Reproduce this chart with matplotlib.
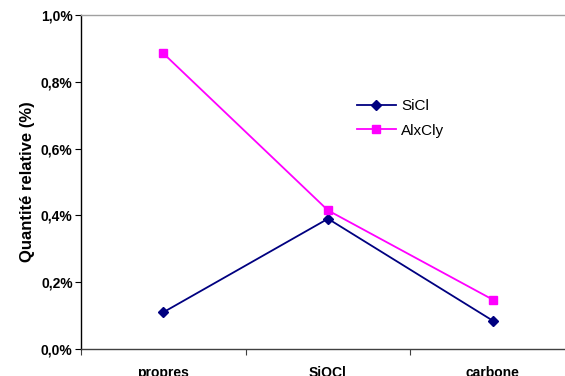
import matplotlib
matplotlib.use("Agg")
import matplotlib.pyplot as plt
from matplotlib.ticker import FixedLocator, FuncFormatter

categories = ["propres", "SiOCl", "carbone"]
sicl = [0.11, 0.39, 0.085]
alxcly = [0.885, 0.415, 0.148]
yticks = [0.0, 0.2, 0.4, 0.6, 0.8, 1.0]

plt.rcParams['font.family'] = ['Liberation Sans', 'DejaVu Sans']

fig = plt.figure(figsize=(5.65, 3.76), dpi=100)
ax = fig.add_axes([81 / 565, 1 - 349 / 376, 494 / 565, 334 / 376])

x = list(range(len(categories)))
ax.plot(x, sicl, color="#000080", marker="D", markersize=5.5, lw=1.3, label="SiCl")
ax.plot(x, alxcly, color="#FF00FF", marker="s", markersize=5.5, lw=1.3, label="AlxCly")

ax.set_xlim(-0.5, len(categories) - 0.5)
ax.set_ylim(0, 1.0)

# ticks at category boundaries, labels centred on categories
ax.xaxis.set_major_locator(FixedLocator([i - 0.5 for i in range(len(categories) + 1)]))
ax.xaxis.set_major_formatter(FuncFormatter(lambda v, p: ""))
ax.xaxis.set_minor_locator(FixedLocator(x))
ax.set_xticklabels(categories, minor=True, fontweight="bold", fontsize=10)
ax.tick_params(axis="x", which="minor", length=0, pad=12)
ax.tick_params(axis="x", which="major", length=4, direction="out", color="#404040")

ax.set_yticks(yticks)
ax.set_yticklabels([f"{v:.1f}%".replace(".", ",") for v in yticks],
                   fontweight="bold", fontsize=10)
ax.tick_params(axis="y", length=4, direction="out", pad=2)

ax.set_ylabel("Quantité relative (%)", fontweight="bold", fontsize=12, labelpad=4)

ax.spines["right"].set_visible(False)
ax.spines["top"].set_color("#a0a0a0")
ax.spines["bottom"].set_color("#404040")
ax.spines["left"].set_color("black")
for s in ax.spines.values():
    s.set_linewidth(1.0)

ax.legend(loc="upper left", bbox_to_anchor=(0.53, 0.79), frameon=False,
          fontsize=11, handlelength=2.6, handletextpad=0.3, labelspacing=0.7)

fig.savefig("out.png", dpi=100)
